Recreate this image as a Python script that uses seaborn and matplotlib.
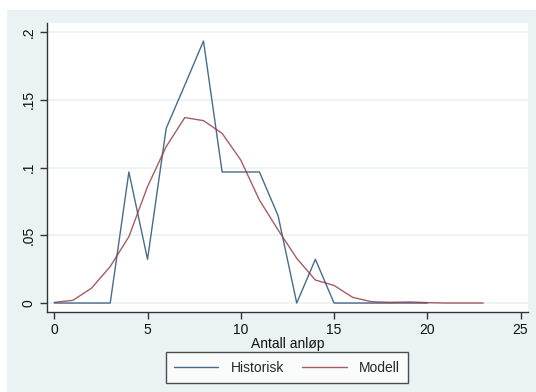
import numpy as np
import pandas as pd
import matplotlib.pyplot as plt
import seaborn as sns
from matplotlib.patches import Rectangle
from matplotlib.lines import Line2D

# ---- data
hist_x = list(range(0, 21))
hist_y = [0, 0, 0, 0, 0.0968, 0.0323, 0.129, 0.161, 0.1935, 0.0968, 0.0968,
          0.0968, 0.0645, 0, 0.0323, 0, 0, 0, 0, 0, 0]
model_x = list(range(0, 24))
model_y = [0.0005, 0.002, 0.011, 0.027, 0.049, 0.086, 0.1155, 0.137, 0.1347,
           0.1253, 0.1056, 0.076, 0.054, 0.033, 0.017, 0.013, 0.0042, 0.001,
           0.0005, 0.0008, 0.0003, 0, 0, 0]
yticks = [0, 0.05, 0.1, 0.15, 0.2]
ytick_labels = ['0', '.05', '.1', '.15', '.2']
xticks = [0, 5, 10, 15, 20, 25]

df = pd.concat([
    pd.DataFrame({'x': hist_x, 'y': hist_y, 'serie': 'Historisk'}),
    pd.DataFrame({'x': model_x, 'y': model_y, 'serie': 'Modell'}),
])

sns.set_style('white')
plt.rcParams['font.family'] = ['Liberation Sans', 'DejaVu Sans']

W, H = 536, 392
fig = plt.figure(figsize=(W / 100, H / 100), dpi=100, facecolor='white')
bg = '#EAF2F3'
fig.patches.append(Rectangle((7 / W, 0), 1 - 7 / W, 1 - 10 / H, transform=fig.transFigure,
                             facecolor=bg, edgecolor='none', zorder=-10))

ax = fig.add_axes([47 / W, 1 - 311.7 / H, (528 - 47) / W, (311.7 - 23.3) / H])
ax.set_facecolor('white')

cols = {'Historisk': '#1A476F', 'Modell': '#90353B'}
sns.lineplot(data=df, x='x', y='y', hue='serie', ax=ax, palette=cols,
             linewidth=1.0, legend=False, sort=False)
for ln in ax.lines:
    ln.set_alpha(0.8)

ax.set_xlim(-0.39, 25.4)
ax.set_ylim(-0.0064, 0.2066)
ax.set_yticks(yticks)
ax.set_yticklabels(ytick_labels, rotation=90, va='center')
ax.set_xticks(xticks)
ax.yaxis.grid(True, color=bg, linewidth=1.2)
ax.set_axisbelow(True)
for s in ['top', 'right']:
    ax.spines[s].set_visible(False)
for s in ['left', 'bottom']:
    ax.spines[s].set_color('#333333')
    ax.spines[s].set_linewidth(1.0)
ax.tick_params(axis='both', direction='out', length=5, width=1, color='#333333',
               labelsize=10, labelcolor='#111111', pad=3, left=True, bottom=True)
ax.set_xlabel('Antall anløp', fontsize=10, labelpad=0, color='#111111')
ax.set_ylabel('')

# legend box in Stata style
handles = [Line2D([], [], color=cols['Historisk'], lw=1.0, alpha=0.8),
           Line2D([], [], color=cols['Modell'], lw=1.0, alpha=0.8)]
leg = fig.legend(handles, ['Historisk', 'Modell'], loc='center',
                 bbox_to_anchor=(287 / W, 1 - 367.5 / H), ncol=2, fontsize=10,
                 frameon=True, fancybox=False, edgecolor='#222222',
                 handlelength=3.2, columnspacing=1.3, handletextpad=0.9,
                 borderpad=0.6, borderaxespad=0)
leg.get_frame().set_linewidth(1.0)

fig.savefig('out.png', dpi=100, facecolor=fig.get_facecolor())
